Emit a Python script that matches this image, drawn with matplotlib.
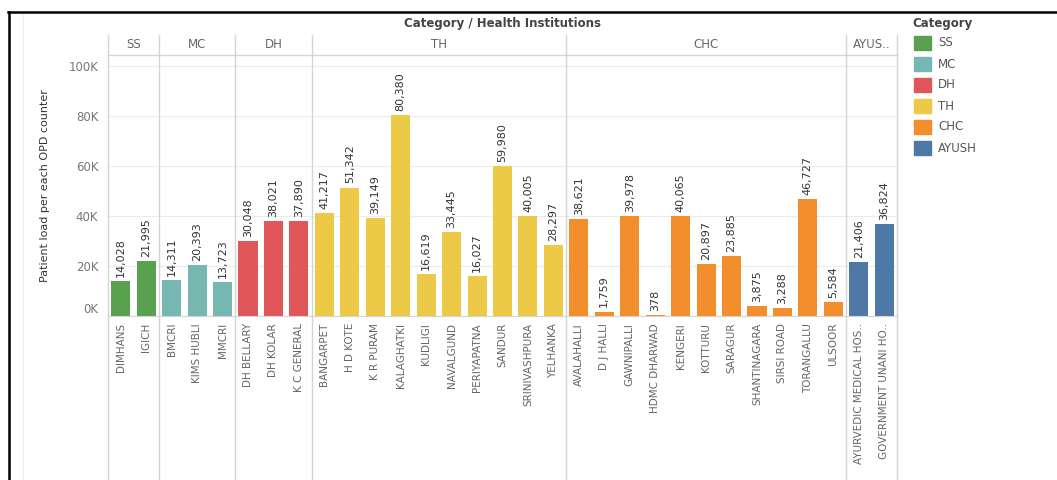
import numpy as np
import matplotlib.pyplot as plt
from matplotlib.lines import Line2D
from matplotlib.patches import Rectangle
import matplotlib.transforms as mtransforms

# --------------------- data ---------------------
categories = ['SS', 'MC', 'DH', 'TH', 'CHC', 'AYUSH']
header_labels = ['SS', 'MC', 'DH', 'TH', 'CHC', 'AYUS..']
cat_colors = ['#59A14F', '#76B7B2', '#E15759', '#EDC948', '#F28E2B', '#4E79A7']

ss_names = ['DIMHANS', 'IGICH']
ss_values = [14028, 21995]
mc_names = ['BMCRI', 'KIMS HUBLI', 'MMCRI']
mc_values = [14311, 20393, 13723]
dh_names = ['DH BELLARY', 'DH KOLAR', 'K C GENERAL']
dh_values = [30048, 38021, 37890]
th_names = ['BANGARPET', 'H D KOTE', 'K R PURAM', 'KALAGHATKI', 'KUDLIGI',
            'NAVALGUND', 'PERIYAPATNA', 'SANDUR', 'SRINIVASHPURA', 'YELHANKA']
th_values = [41217, 51342, 39149, 80380, 16619, 33445, 16027, 59980, 40005, 28297]
chc_names = ['AVALAHALLI', 'D J HALLI', 'GAWNIPALLI', 'HDMC DHARWAD', 'KENGERI',
             'KOTTURU', 'SARAGUR', 'SHANTINAGARA', 'SIRSI ROAD', 'TORANGALLU', 'ULSOOR']
chc_values = [38621, 1759, 39978, 378, 40065, 20897, 23885, 3875, 3288, 46727, 5584]
ayush_names = ['AYURVEDIC MEDICAL HOS..', 'GOVERNMENT UNANI HO..']
ayush_values = [21406, 36824]

groups = [(ss_names, ss_values), (mc_names, mc_values), (dh_names, dh_values),
          (th_names, th_values), (chc_names, chc_values), (ayush_names, ayush_values)]

names, values, colors, group_sizes = [], [], [], []
for (gn, gv), c in zip(groups, cat_colors):
    names += gn
    values += gv
    colors += [c] * len(gv)
    group_sizes.append(len(gv))
x = np.arange(len(values))

# --------------------- figure ---------------------
W, H = 1057, 480
fig = plt.figure(figsize=(W / 100, H / 100), dpi=100)
fx = lambda px: px / W
fy = lambda py: 1 - py / H

L, R, T, B = 108, 897, 56, 316
ax = fig.add_axes([fx(L), fy(B), (R - L) / W, (B - T) / H])

ax.bar(x, values, width=0.75, color=colors, zorder=2)
ax.set_xlim(-0.5, len(values) - 0.5)
ax.set_ylim(0, 104000)

ax.set_yticks(np.arange(0, 100001, 20000))
ax.set_yticklabels([f'{int(v/1000)}K' for v in np.arange(0, 100001, 20000)],
                   fontsize=8.5, color='#777777')
ax.get_yticklabels()[0].set_va('bottom')
ax.yaxis.grid(True, color='#ebebeb', linewidth=0.8)
ax.set_axisbelow(True)

ax.set_xticks(x)
ax.set_xticklabels(names, rotation=90, fontsize=7.5, color='#666666')
ax.tick_params(length=0, axis='x', pad=5)
ax.tick_params(length=0, axis='y', pad=7)

for s in ['top', 'right', 'left']:
    ax.spines[s].set_visible(False)
ax.spines['bottom'].set_color('#d4d4d4')

# value labels
for xi, v in zip(x, values):
    ax.annotate(f'{v:,}', xy=(xi, v), xytext=(0, 3), textcoords='offset points',
                rotation=90, ha='center', va='bottom', fontsize=8, color='#333333')

# pane dividers + headers
bounds = np.concatenate([[0], np.cumsum(group_sizes)]) - 0.5
for b in bounds:
    ax.axvline(b, ymin=-(H - B) / (B - T), ymax=(B - 35) / (B - T),
               color='#d4d4d4', linewidth=1, clip_on=False, zorder=1)
trans = mtransforms.blended_transform_factory(ax.transData, ax.transAxes)
for i, lab in enumerate(header_labels):
    cx = (bounds[i] + bounds[i + 1]) / 2
    ax.text(cx, (B - 45) / (B - T), lab, transform=trans, ha='center', va='center',
            fontsize=8.5, color='#666666')
fig.add_artist(Line2D([fx(L), fx(R)], [fy(55), fy(55)], color='#d4d4d4', linewidth=1))

fig.text(fx((L + R) / 2), fy(24), 'Category / Health Institutions', ha='center', va='center',
         fontsize=8.5, fontweight='bold', color='#444444')
fig.text(fx(45), fy(186), 'Patient load per each OPD counter', rotation=90,
         ha='center', va='center', fontsize=8, color='#333333')

# legend
fig.text(fx(912), fy(24), 'Category', ha='left', va='center', fontsize=8.5,
         fontweight='bold', color='#444444')
for i, (cat, c) in enumerate(zip(categories, cat_colors)):
    yc = 43 + i * 21
    fig.add_artist(Rectangle((fx(914), fy(yc + 7)), 17 / W, 14 / H,
                             transform=fig.transFigure, color=c))
    fig.text(fx(938), fy(yc), cat, ha='left', va='center', fontsize=8.5, color='#555555')

# outer frame
fig.add_artist(Line2D([fx(8), 1], [fy(12), fy(12)], color='black', linewidth=1.8))
fig.add_artist(Line2D([fx(9), fx(9)], [fy(12), 0], color='black', linewidth=1.8))
fig.add_artist(Line2D([fx(23), fx(23)], [fy(14), 0], color='#eeeeee', linewidth=0.8))

fig.savefig('out.png', dpi=100)
